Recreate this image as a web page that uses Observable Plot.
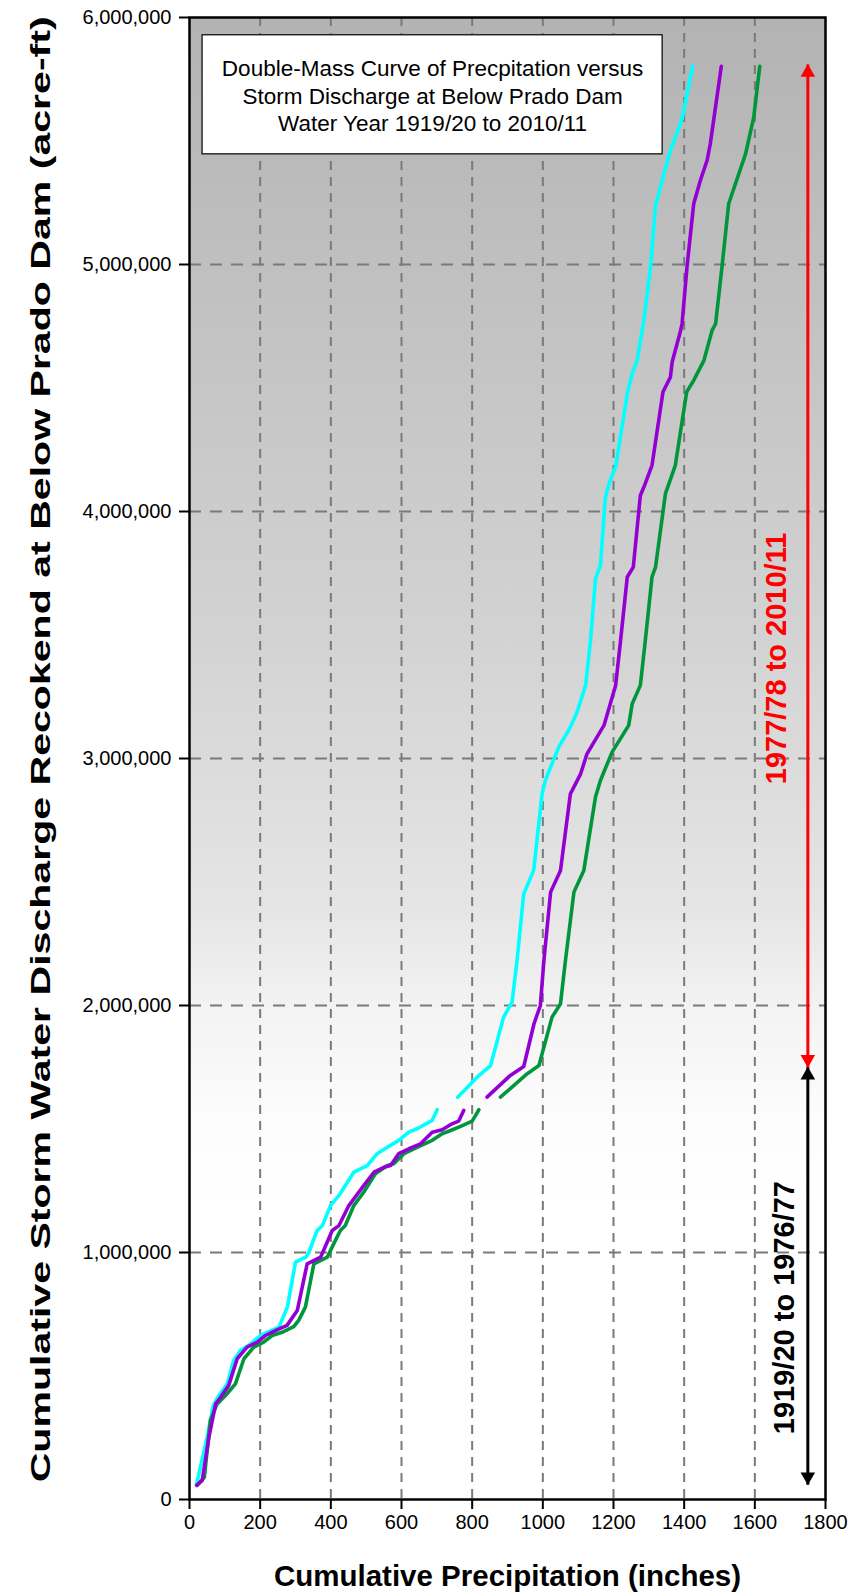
<!DOCTYPE html>
<html>
<head>
<meta charset="utf-8">
<script src="https://cdn.jsdelivr.net/npm/d3@7"></script>
<script src="https://cdn.jsdelivr.net/npm/@observablehq/plot@0.6"></script>
<style>
  html, body { margin: 0; padding: 0; background: #ffffff; }
  #chart { width: 850px; height: 1593px; }
</style>
</head>
<body>
<div id="chart"></div>
<script>
// ---------- data (x = cumulative precipitation, inches; y = cumulative discharge, acre-ft) ----------
const cyanEarly = [[20,61000],[50,252000],[67,380000],[83,421000],[107,468000],[125,563000],[144,603000],[173,630000],[201,664000],[220,677000],[253,698000],[277,779000],[300,961000],[329,981000],[338,1001000],[361,1089000],[376,1109000],[399,1190000],[423,1231000],[465,1325000],[503,1352000],[531,1400000],[560,1426000],[592,1454000],[621,1487000],[644,1501000],[687,1535000],[701,1578000]];
const cyanLate = [[759,1629000],[814,1710000],[852,1757000],[889,1953000],[913,2014000],[927,2182000],[946,2452000],[974,2547000],[998,2857000],[1007,2911000],[1022,2965000],[1045,3046000],[1078,3127000],[1097,3188000],[1121,3296000],[1135,3478000],[1149,3728000],[1163,3782000],[1177,4058000],[1187,4112000],[1206,4180000],[1239,4477000],[1253,4558000],[1267,4612000],[1281,4733000],[1286,4774000],[1305,4990000],[1319,5240000],[1333,5314000],[1361,5462000],[1394,5590000],[1424,5802000]];

const purpleEarly = [[20,57000],[36,77000],[55,252000],[74,387000],[88,414000],[111,462000],[135,570000],[163,617000],[192,637000],[215,664000],[243,684000],[276,705000],[305,765000],[333,954000],[371,981000],[404,1089000],[423,1109000],[451,1190000],[493,1271000],[522,1325000],[550,1345000],[569,1352000],[592,1400000],[621,1420000],[654,1440000],[687,1487000],[715,1497000],[743,1521000],[762,1532000],[776,1575000]];
const purpleLate = [[842,1629000],[908,1717000],[946,1753000],[975,1926000],[993,2000000],[1003,2182000],[1022,2459000],[1050,2547000],[1078,2857000],[1107,2938000],[1125,3019000],[1173,3134000],[1206,3296000],[1220,3478000],[1239,3735000],[1256,3775000],[1276,4065000],[1286,4099000],[1309,4187000],[1340,4484000],[1361,4544000],[1366,4605000],[1390,4733000],[1394,4760000],[1408,4990000],[1427,5246000],[1446,5341000],[1465,5422000],[1474,5489000],[1505,5802000]];

const greenEarly = [[22,57000],[42,90000],[59,320000],[78,387000],[102,421000],[130,468000],[154,570000],[182,617000],[210,637000],[234,664000],[262,677000],[295,700000],[309,725000],[328,779000],[352,954000],[390,981000],[408,1035000],[427,1089000],[441,1109000],[465,1190000],[493,1244000],[526,1319000],[560,1352000],[578,1359000],[607,1400000],[644,1426000],[687,1454000],[715,1481000],[739,1494000],[772,1514000],[800,1532000],[819,1578000]];
const greenLate = [[880,1629000],[956,1724000],[989,1757000],[1026,1953000],[1050,2007000],[1064,2182000],[1088,2459000],[1116,2547000],[1149,2844000],[1163,2911000],[1196,3026000],[1243,3134000],[1253,3222000],[1276,3296000],[1290,3478000],[1309,3735000],[1319,3775000],[1347,4072000],[1375,4187000],[1407,4484000],[1427,4531000],[1456,4612000],[1479,4733000],[1489,4760000],[1507,4990000],[1526,5246000],[1574,5449000],[1597,5597000],[1614,5802000]];

const xTicks = [0,200,400,600,800,1000,1200,1400,1600,1800];
const yTicks = [0,1000000,2000000,3000000,4000000,5000000,6000000];

const titleLines = ["Double-Mass Curve of Precpitation versus", "Storm Discharge at Below Prado Dam", "Water Year 1919/20 to 2010/11"];
const periodLabels = ["1919/20 to 1976/77", "1977/78 to 2010/11"];
const periodStart = [60000, 1750000];
const periodEnd = [1750000, 5810000];

const xLabel = "Cumulative Precipitation (inches)";
const yLabel = "Cumulative Storm Water Discharge Recokend at Below Prado Dam (acre-ft)";

// ---------- build ----------
const pt = d => ({x: d[0], y: d[1]});
const series = [
  {pts: cyanEarly, color: "#00ffff"}, {pts: cyanLate, color: "#00ffff"},
  {pts: greenEarly, color: "#00963c"}, {pts: greenLate, color: "#00963c"},
  {pts: purpleEarly, color: "#9400d3"}, {pts: purpleLate, color: "#9400d3"}
];
const periods = periodLabels.map((label, i) => ({
  label, from: periodStart[i], to: periodEnd[i],
  color: i === 0 ? "#000000" : "#ff0000"
}));
const arrowX = 1750;

const font = "'Liberation Sans', Arial, Helvetica, sans-serif";

const lineMarks = series.map(s => Plot.line(s.pts.map(pt), {
  x: "x", y: "y", stroke: s.color, strokeWidth: 3.6, strokeLinejoin: "round", strokeLinecap: "round"
}));

const chart = Plot.plot({
  width: 850,
  height: 1593,
  marginTop: 17,
  marginBottom: 94,
  marginLeft: 189,
  marginRight: 25,
  style: {fontFamily: font, background: "#ffffff", color: "#000000", overflow: "visible"},
  x: {domain: [0, 1800], axis: null},
  y: {domain: [0, 6000000], axis: null},
  marks: [
    Plot.frame({fill: "url(#bgGrad)", stroke: "none"}),
    Plot.gridX(xTicks.slice(1, -1), {stroke: "#7a7a7a", strokeOpacity: 1, strokeWidth: 2, strokeDasharray: "9,7"}),
    Plot.gridY(yTicks.slice(1, -1), {stroke: "#7a7a7a", strokeOpacity: 1, strokeWidth: 2, strokeDasharray: "12,9"}),
    Plot.rect([0], {x1: 37, x2: 1339, y1: 5446000, y2: 5928000, fill: "#ffffff", stroke: "#000000", strokeWidth: 1.2}),
    Plot.text([titleLines.join("\n")], {x: 688, y: 5687000, fontSize: 22.5, lineHeight: 1.22, fill: "#000000", textAnchor: "middle"}),
    ...lineMarks,
    Plot.link(periods, {x1: arrowX, x2: arrowX, y1: "from", y2: "to", stroke: "color", strokeWidth: 3}),
    // arrow heads: pointing down at the start of each period, up at the end
    Plot.dot(periods, {x: arrowX, y: "from", symbol: "triangle", r: 5.4, fill: "color", stroke: "none", rotate: 180, dy: -8}),
    Plot.dot(periods, {x: arrowX, y: "to", symbol: "triangle", r: 5.4, fill: "color", stroke: "none", dy: 8}),
    Plot.text(periods, {x: (d, i) => i === 0 ? 1685 : 1661, y: (d, i) => i === 0 ? 777000 : 3405000, text: "label", rotate: -90, fill: "color", fontSize: 29, fontWeight: "bold"}),
    Plot.frame({stroke: "#000000", strokeWidth: 2.5}),
    Plot.axisY(yTicks, {tickFormat: d3.format(","), tickSize: 10, tickPadding: 8, fontSize: 20, strokeWidth: 2, label: null}),
    Plot.axisX(xTicks, {tickFormat: d => String(d), tickSize: 10, tickPadding: 5, fontSize: 20, strokeWidth: 2, label: null}),
    Plot.text([xLabel], {x: 900, y: -310000, fontSize: 29.5, fontWeight: "bold", fill: "#000000"}),
    Plot.text([yLabel], {x: -419, y: 3037000, rotate: -90, fontSize: 28, fontWeight: "bold", fill: "#000000"})
  ]
});

document.getElementById("chart").appendChild(chart);

const svg = d3.select(chart);
const defs = svg.insert("defs", ":first-child");
const grad = defs.append("linearGradient").attr("id", "bgGrad").attr("x1", 0).attr("y1", 0).attr("x2", 0).attr("y2", 1);
[[0, "#b3b3b3"], [0.2, "#c2c2c2"], [0.42, "#d3d3d3"], [0.6, "#e5e5e5"], [0.67, "#f3f3f3"], [0.74, "#fcfcfc"], [0.8, "#ffffff"], [1, "#ffffff"]]
  .forEach(([o, c]) => grad.append("stop").attr("offset", o).attr("stop-color", c));

svg.selectAll("text").filter(function () { return this.textContent === yLabel; })
  .attr("textLength", 1466).attr("lengthAdjust", "spacingAndGlyphs");
</script>
</body>
</html>
